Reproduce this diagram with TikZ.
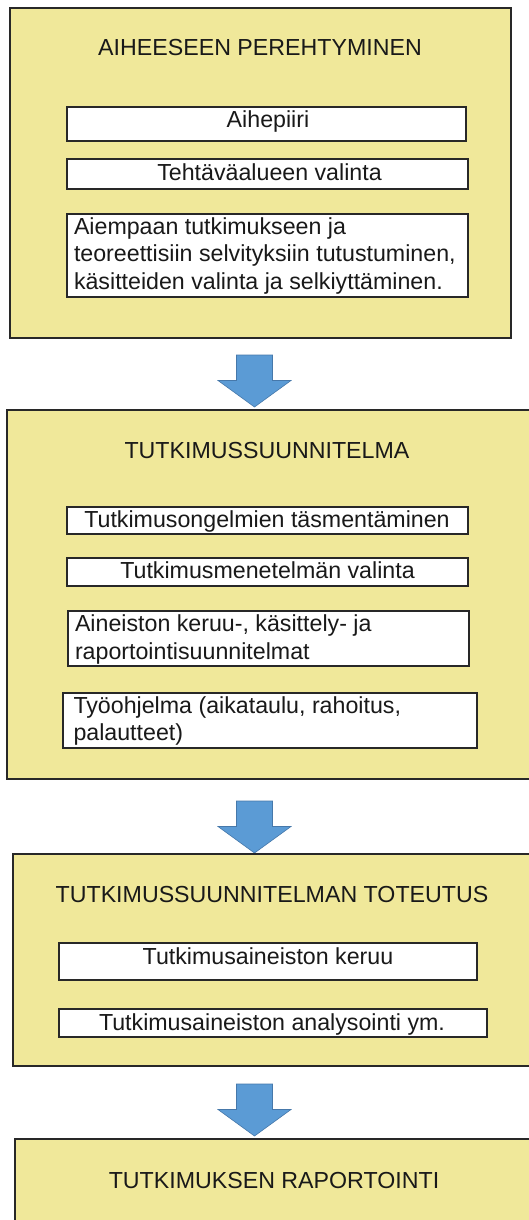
\documentclass[tikz,border=0pt]{standalone}
\usepackage{fontspec}
\setmainfont{Liberation Sans}
\definecolor{stageyellow}{RGB}{240,232,154}
\definecolor{edgecol}{RGB}{40,40,40}
\definecolor{arrowblue}{RGB}{91,155,213}
\definecolor{arrowedge}{RGB}{70,120,170}
\newcommand{\fs}{\fontsize{23.2}{27.8}\selectfont}
\tikzset{
  stage/.style={draw=edgecol, line width=1.8pt, fill=stageyellow, inner sep=0pt, outer sep=0pt},
  item/.style={draw=edgecol, line width=1.6pt, fill=white, inner sep=0pt, outer sep=0pt},
  label/.style={font=\fs, text=black!90, inner sep=0pt, outer sep=0pt},
  para/.style={label, align=left, anchor=north west},
  flowarrow/.pic={\path[fill=arrowblue, draw=arrowedge, line width=0.6pt]
     (-18,0) -- (18,0) -- (18,25.5) -- (36.5,25.5) -- (0,52) -- (-36.5,25.5) -- (-18,25.5) -- cycle;}
}
\begin{document}
\begin{tikzpicture}[x=1pt,y=-1pt]
\useasboundingbox (0,0) rectangle (529,1220);
\clip (0,0) rectangle (529,1220);
\fill[white] (0,0) rectangle (529,1220);

% ---------- Stage 1 ----------
\node[stage, minimum width=501pt, minimum height=330pt] (B1) at (260.5,173) {};
\node[label, anchor=base] (T1) at (260,56) {AIHEESEEN PEREHTYMINEN};
\node[item, minimum width=399pt, minimum height=34pt] (b1a) at (266.5,124) {};
\node[label, anchor=base] (t1a) at (268,128) {Aihepiiri};
\node[item, minimum width=401pt, minimum height=30pt] (b1b) at (267.5,174) {};
\node[label, anchor=base] (t1b) at (269.5,180) {Tehtäväalueen valinta};
\node[item, minimum width=401pt, minimum height=83pt] (b1c) at (267.5,255.5) {};
\node[para] (t1c) at (74,234-19.46) {\strut Aiempaan tutkimukseen ja\\\strut teoreettisiin selvityksiin tutustuminen,\\\strut käsitteiden valinta ja selkiyttäminen.};

% ---------- Arrow 1 ----------
\coordinate (a1) at (254.5,355);
\pic at (a1) {flowarrow};

% ---------- Stage 2 ----------
\node[stage, minimum width=530pt, minimum height=369pt] (B2) at (272,594.5) {};
\node[label, anchor=base] (T2) at (267,458) {TUTKIMUSSUUNNITELMA};
\node[item, minimum width=401pt, minimum height=27pt] (b2a) at (267.5,520.5) {};
\node[label, anchor=base] (t2a) at (267,527) {Tutkimusongelmien täsmentäminen};
\node[item, minimum width=401pt, minimum height=28pt] (b2b) at (267.5,572) {};
\node[label, anchor=base] (t2b) at (267.5,578) {Tutkimusmenetelmän valinta};
\node[item, minimum width=401pt, minimum height=55pt] (b2c) at (268.5,638.5) {};
\node[para] (t2c) at (75,631.5-19.46) {\strut Aineiston keruu-, käsittely- ja\\\strut raportointisuunnitelmat};
\node[item, minimum width=414pt, minimum height=55pt] (b2d) at (270,720.5) {};
\node[para] (t2d) at (73.5,713-19.46) {\strut Työohjelma (aikataulu, rahoitus,\\\strut palautteet)};

% ---------- Arrow 2 ----------
\coordinate (a2) at (254.5,801);
\pic at (a2) {flowarrow};

% ---------- Stage 3 ----------
\node[stage, minimum width=524pt, minimum height=212pt] (B3) at (275,960) {};
\node[label, anchor=base] (T3) at (272,902) {TUTKIMUSSUUNNITELMAN TOTEUTUS};
\node[item, minimum width=418pt, minimum height=37pt] (b3a) at (268,961.5) {};
\node[label, anchor=base] (t3a) at (268,964) {Tutkimusaineiston keruu};
\node[item, minimum width=428pt, minimum height=28pt] (b3b) at (273,1023) {};
\node[label, anchor=base] (t3b) at (272,1030) {Tutkimusaineiston analysointi ym.};

% ---------- Arrow 3 ----------
\coordinate (a3) at (254.5,1084);
\pic at (a3) {flowarrow};

% ---------- Stage 4 ----------
\node[stage, minimum width=524pt, minimum height=110pt] (B4) at (277,1194) {};
\node[label, anchor=base] (T4) at (274,1188) {TUTKIMUKSEN RAPORTOINTI};
\end{tikzpicture}
\end{document}
